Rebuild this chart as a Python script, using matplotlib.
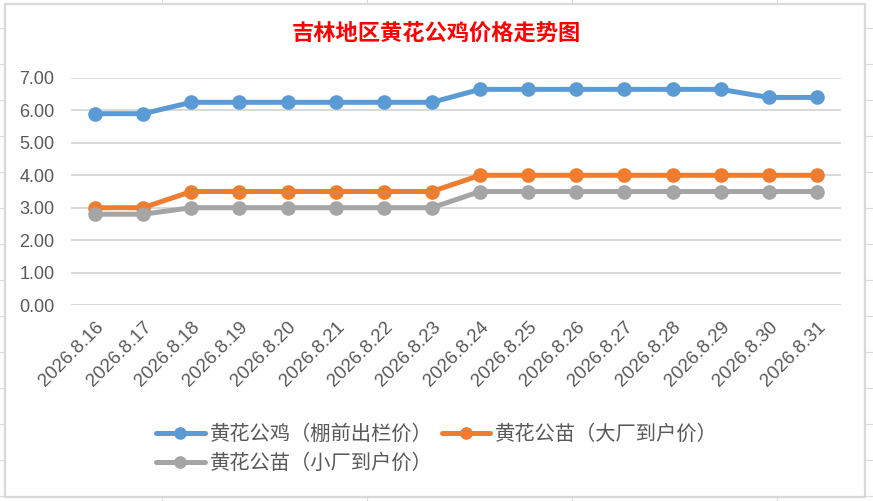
import matplotlib.pyplot as plt
from matplotlib.lines import Line2D
from matplotlib.patches import Rectangle

# data
dates = ['2026.8.16', '2026.8.17', '2026.8.18', '2026.8.19', '2026.8.20', '2026.8.21',
         '2026.8.22', '2026.8.23', '2026.8.24', '2026.8.25', '2026.8.26', '2026.8.27',
         '2026.8.28', '2026.8.29', '2026.8.30', '2026.8.31']
rooster = [5.9, 5.9, 6.25, 6.25, 6.25, 6.25, 6.25, 6.25, 6.65, 6.65, 6.65, 6.65, 6.65, 6.65, 6.4, 6.4]
chick_big = [3.0, 3.0, 3.5, 3.5, 3.5, 3.5, 3.5, 3.5, 4.0, 4.0, 4.0, 4.0, 4.0, 4.0, 4.0, 4.0]
chick_small = [2.8, 2.8, 3.0, 3.0, 3.0, 3.0, 3.0, 3.0, 3.5, 3.5, 3.5, 3.5, 3.5, 3.5, 3.5, 3.5]
labels = ['黄花公鸡（棚前出栏价）', '黄花公苗（大厂到户价）', '黄花公苗（小厂到户价）']
colors = ['#5B9BD5', '#ED7D31', '#A5A5A5']

plt.rcParams['font.family'] = ['Liberation Sans', 'Noto Sans CJK SC']

W, H = 873, 501
fig = plt.figure(figsize=(W / 100, H / 100), dpi=100)

# spreadsheet cell lines behind the chart
for y in range(28, H, 36):
    fig.add_artist(Line2D([0, 1], [1 - y / H] * 2, color='#dadada', lw=0.8, zorder=0))
for x in [162, 367, 572, 777]:
    fig.add_artist(Line2D([x / W] * 2, [0, 1], color='#dadada', lw=0.8, zorder=0))
fig.add_artist(Rectangle((5 / W, 4 / H), 860 / W, 493 / H, facecolor='white',
                         edgecolor='#d9d9d9', lw=1.6, zorder=1))

ax = fig.add_axes([71 / W, 1 - 305 / H, 770 / W, 227 / H])
ax.set_zorder(2)
ax.patch.set_alpha(0)

x = range(len(dates))
lines = []
for vals, lab, c in zip([rooster, chick_big, chick_small], labels, colors):
    ln, = ax.plot(x, vals, color=c, lw=3.6, marker='o', markersize=9.5, label=lab,
                  solid_capstyle='round')
    lines.append(ln)

ax.set_xlim(-0.5, len(dates) - 0.5)
ax.set_ylim(0, 7)
ax.set_yticks([0, 1, 2, 3, 4, 5, 6, 7])
ax.set_yticklabels([f'{v:.2f}' for v in range(8)])
ax.set_xticks(list(x))
ax.set_xticklabels(dates, rotation=45, ha='right', rotation_mode='anchor')
ax.tick_params(axis='both', length=0, colors='#595959', labelsize=13)
ax.tick_params(axis='x', pad=10, labelsize=13.5)
ax.tick_params(axis='y', pad=12)
ax.grid(axis='y', color='#d9d9d9', lw=1.4)
ax.set_axisbelow(True)
for s in ax.spines.values():
    s.set_visible(False)

fig.text(436 / W, 1 - 33 / H, '吉林地区黄花公鸡价格走势图', color='#FF0000', fontsize=16,
         fontweight='bold', ha='center', va='center', family=['Noto Sans CJK SC'])

# legend filled row by row: blue, orange / gray
order = [lines[0], lines[2], lines[1]]
leg = fig.legend(order, [l.get_label() for l in order], loc='upper left',
                 bbox_to_anchor=(156 / W, 1 - 424 / H), ncol=2, borderpad=0,
                 borderaxespad=0, frameon=False, handlelength=2.4, columnspacing=0.45,
                 handletextpad=0.25, labelspacing=0.4, markerscale=0.85,
                 prop={'family': ['Noto Sans CJK SC'], 'size': 14.6})
for t in leg.get_texts():
    t.set_color('#595959')

fig.savefig('out.png', dpi=100)
